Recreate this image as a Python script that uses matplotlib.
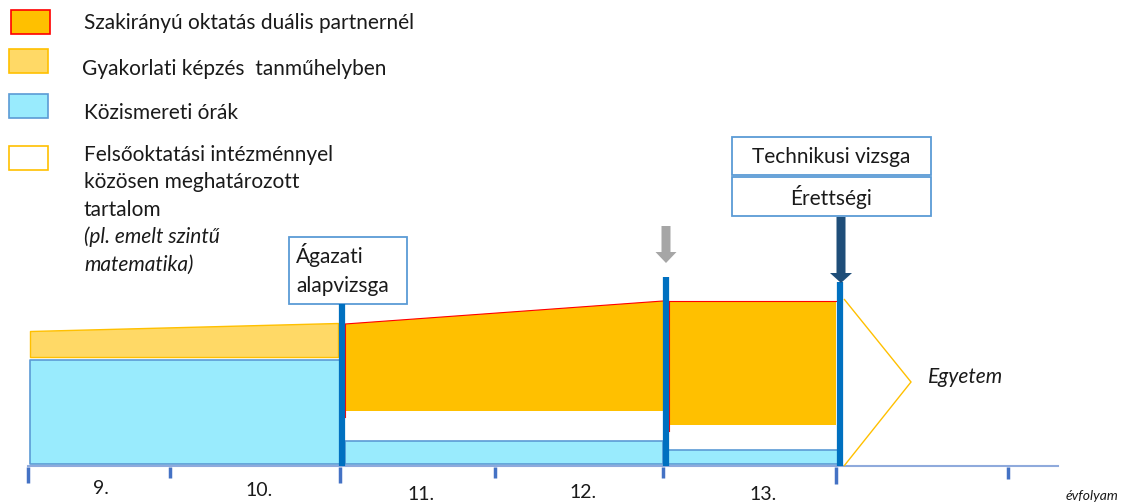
import matplotlib
matplotlib.use("Agg")
import matplotlib.pyplot as plt
from matplotlib.patches import FancyArrow, Polygon, Rectangle

plt.rcParams["font.family"] = ["Lato", "DejaVu Sans"]

# legend entries
legend_labels = [
    "Szakirányú oktatás duális partnernél",
    "Gyakorlati képzés  tanműhelyben",
    "Közismereti órák",
]
higher_ed_lines = ["Felsőoktatási intézménnyel", "közösen meghatározott", "tartalom"]
higher_ed_note = ["(pl. emelt szintű", "matematika)"]

# timeline (grades), in pixel units of the original slide
grade_labels = ["9.", "10.", "11.", "12.", "13."]
grade_label_x = [101, 259, 421, 583, 763]
grade_label_y = [488, 491, 494, 492, 495]
tick_x = [28, 170, 340, 495, 663, 836, 1008]
tick_end = [483, 478, 483, 478, 478, 484, 479]

# blocks: (x start, x end), top edge at both ends, bottom edge
workshop_x = [30, 338]
workshop_top = [331, 323]
workshop_bottom = 357

general_x = [[30, 340], [345, 663], [667, 838]]
general_top = [360, 441, 450]
general_bottom = 464

dual_x = [[345, 663], [669, 836]]
dual_top = [[324, 301], [301, 301]]
dual_bottom = [411, 425]

# exam milestones
milestone_x = [342, 666, 840]
milestone_top = [304, 277, 282]
milestone_bottom = 466

DUAL = "#FFC000"
WORKSHOP = "#FFD966"
GENERAL = "#99EBFD"
GENERAL_EDGE = "#5B9BD5"
MILESTONE = "#0070C0"
TICK = "#4472C4"
AXIS = "#8FAADC"
TEXT = "#1A1A1A"

fig = plt.figure(figsize=(11.25, 5.03), dpi=100)
ax = fig.add_axes([0, 0, 1, 1])
ax.set_xlim(0, 1125)
ax.set_ylim(503, 0)
ax.axis("off")

# legend swatches
swatches = [(11, 10, DUAL, "#FF0000"), (9, 49, WORKSHOP, "#FFC000"),
            (9, 94, GENERAL, GENERAL_EDGE), (9, 146, "white", "#FFC000")]
for x, y, face, edge in swatches:
    ax.add_patch(Rectangle((x, y), 39, 24, facecolor=face, edgecolor=edge, lw=1.2))
for label, x, y in zip(legend_labels, [84, 82, 84], [23, 69, 113]):
    ax.text(x, y, label, fontsize=15, color=TEXT, va="center")
for i, line in enumerate(higher_ed_lines):
    ax.text(84, 155 + 27.5 * i, line, fontsize=15, color=TEXT, va="center")
for i, line in enumerate(higher_ed_note):
    ax.text(84, 237 + 27.5 * i, line, fontsize=15, color=TEXT, va="center", style="italic")

# axis and ticks
ax.plot([28, 1058], [466, 466], color=AXIS, lw=1.5, zorder=1)
for x, end in zip(tick_x, tick_end):
    ax.plot([x, x], [467, end], color=TICK, lw=2.5, solid_capstyle="butt")
for label, x, y in zip(grade_labels, grade_label_x, grade_label_y):
    ax.text(x, y, label, fontsize=14, color=TEXT, ha="center", va="center")
ax.text(1066, 496, "évfolyam", fontsize=10, style="italic", color=TEXT, va="center")

# blocks
ax.fill_between(workshop_x, workshop_top, workshop_bottom, facecolor=WORKSHOP,
                edgecolor="#FFC000", lw=1, zorder=2)
for xs, top in zip(general_x, general_top):
    ax.fill_between(xs, top, general_bottom, facecolor=GENERAL, edgecolor=GENERAL_EDGE,
                    lw=1.2, zorder=2)
for xs, tops, bottom in zip(dual_x, dual_top, dual_bottom):
    ax.fill_between(xs, tops, bottom, facecolor=DUAL, edgecolor="none", zorder=2)
    ax.plot(xs, tops, color="#FF0000", lw=0.8, zorder=3)
    ax.plot([xs[0], xs[0]], [tops[0], bottom + 6], color="#FF0000", lw=0.8, zorder=3)

# university triangle
ax.add_patch(Polygon([[844, 299], [911, 382], [844, 466]], closed=False, fill=False,
                     edgecolor="#FFC000", lw=1, zorder=2))
ax.text(928, 377, "Egyetem", fontsize=15, style="italic", color=TEXT, va="center")

# milestones
for x, top in zip(milestone_x, milestone_top):
    ax.plot([x, x], [top, milestone_bottom], color=MILESTONE, lw=4.5,
            solid_capstyle="butt", zorder=4)
ax.add_patch(FancyArrow(666, 226, 0, 37, width=9, head_width=21, head_length=11,
                        length_includes_head=True, color="#A6A6A6", lw=0, zorder=4))
ax.add_patch(FancyArrow(841, 217, 0, 66, width=9, head_width=22, head_length=10,
                        length_includes_head=True, color="#1F4E79", lw=0, zorder=5))

# exam boxes
boxes = [(289, 237, 118, 67), (732, 137, 199, 38), (732, 177, 199, 39)]
for x, y, w, h in boxes:
    ax.add_patch(Rectangle((x, y), w, h, facecolor="white", edgecolor=GENERAL_EDGE,
                           lw=1.3, zorder=3))
ax.text(296, 255, "Ágazati", fontsize=15, color=TEXT, va="center", zorder=6)
ax.text(296, 286, "alapvizsga", fontsize=15, color=TEXT, va="center", zorder=6)
ax.text(831, 157, "Technikusi vizsga", fontsize=15, color=TEXT, ha="center", va="center", zorder=6)
ax.text(831, 197, "Érettségi", fontsize=15, color=TEXT, ha="center", va="center", zorder=6)

fig.savefig("out.png", dpi=100)
